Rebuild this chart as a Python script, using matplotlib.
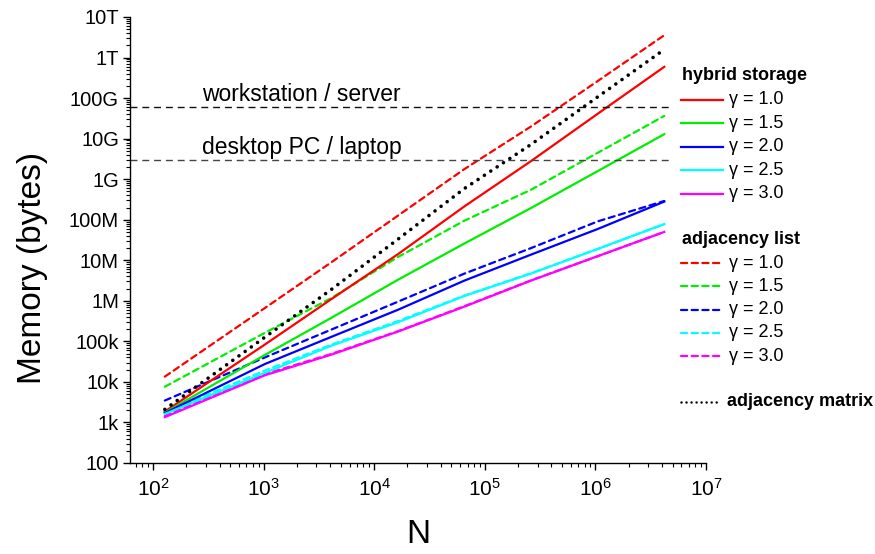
import matplotlib

matplotlib.use("Agg")

import matplotlib.pyplot as plt
import numpy as np
from matplotlib.lines import Line2D
from matplotlib.ticker import FixedLocator, FixedFormatter, LogLocator, NullFormatter

plt.rcParams["font.family"] = ["Liberation Sans", "DejaVu Sans"]
plt.rcParams["mathtext.default"] = "regular"

# network sizes (number of nodes)
N = [128, 1024, 4096, 16384, 65536, 262144, 1048576, 4194304]

GAMMAS = ["1.0", "1.5", "2.0", "2.5", "3.0"]
COLORS = ["#ff0000", "#00ee00", "#0000ff", "#00ffff", "#ff00ff"]

# memory in bytes, hybrid storage
hybrid_g10 = [1.86e3, 8.3e4, 1.1e6, 1.41e7, 2.14e8, 2.8e9, 4.1e10, 5.9e11]
hybrid_g15 = [1.74e3, 4.6e4, 3.8e5, 3.3e6, 2.6e7, 1.95e8, 1.58e9, 1.29e10]
hybrid_g20 = [1.70e3, 2.75e4, 1.29e5, 6.0e5, 3.16e6, 1.38e7, 5.9e7, 2.8e8]
hybrid_g25 = [1.62e3, 1.66e4, 7.8e4, 2.95e5, 1.32e6, 4.7e6, 1.9e7, 7.8e7]
hybrid_g30 = [1.35e3, 1.45e4, 4.7e4, 1.74e5, 7.2e5, 3.16e6, 1.26e7, 5.0e7]

# memory in bytes, adjacency list
adjlist_g10 = [1.35e4, 6.6e5, 8.9e6, 1.26e8, 1.78e9, 2.0e10, 2.63e11, 3.55e12]
adjlist_g15 = [7.6e3, 1.62e5, 1.17e6, 1.2e7, 9.5e7, 5.5e8, 4.47e9, 3.63e10]
adjlist_g20 = [3.47e3, 4.0e4, 1.95e5, 9.5e5, 4.7e6, 2.0e7, 9.1e7, 2.9e8]
adjlist_g25 = [1.78e3, 1.9e4, 8.3e4, 3.16e5, 1.35e6, 4.8e6, 1.9e7, 7.8e7]
adjlist_g30 = [1.45e3, 1.55e4, 4.9e4, 1.78e5, 7.4e5, 3.2e6, 1.26e7, 5.0e7]

# memory in bytes, adjacency matrix
adjmatrix = [2.1e3, 1.26e5, 1.9e6, 3.3e7, 5.9e8, 7.2e9, 1.07e11, 1.58e12]

# typical available memory
RAM_LIMITS = [6.0e10, 3.0e9]
RAM_LABELS = ["workstation / server", "desktop PC / laptop"]
RAM_LABEL_Y = [1.26e11, 5.9e9]
RAM_LINE_END = 5.0e6

Y_TICKS = [1e2, 1e3, 1e4, 1e5, 1e6, 1e7, 1e8, 1e9, 1e10, 1e11, 1e12, 1e13]
Y_TICK_LABELS = ["100", "1k", "10k", "100k", "1M", "10M", "100M",
                 "1G", "10G", "100G", "1T", "10T"]

HYBRID = [hybrid_g10, hybrid_g15, hybrid_g20, hybrid_g25, hybrid_g30]
ADJLIST = [adjlist_g10, adjlist_g15, adjlist_g20, adjlist_g25, adjlist_g30]

W, H = 875, 554
LW = 1.6
DASH = (0, (2.8, 2.0))
DOT = (0, (0.01, 2.1))


def fx(px):
    return px / W


def fy(py):
    return 1 - py / H


def legend_row(fig, y, text, ls, color, lw=LW, x1=723, bold=False, tx=729):
    fig.add_artist(Line2D([fx(681), fx(x1)], [fy(y), fy(y)], color=color,
                          lw=lw, linestyle=ls, dash_capstyle="round"))
    fig.text(fx(tx), fy(y), text, fontsize=13, va="center", ha="left",
             fontweight="bold" if bold else "normal")


fig = plt.figure(figsize=(W / 100, H / 100), dpi=100)
ax = fig.add_axes([fx(130), fy(463), fx(706 - 130), (463 - 17) / H])

for values, color in zip(ADJLIST, COLORS):
    ax.plot(N, values, color=color, lw=LW, linestyle=DASH, dash_capstyle="round")
for values, color in zip(HYBRID, COLORS):
    ax.plot(N, values, color=color, lw=LW)
ax.plot(N, adjmatrix, color="black", lw=2.6, linestyle=DOT, dash_capstyle="round")

xmin = 62
for limit, label, ly, c in zip(RAM_LIMITS, RAM_LABELS, RAM_LABEL_Y, ["#111111", "#444444"]):
    ax.plot([xmin, RAM_LINE_END], [limit, limit], color=c, lw=1.0,
            linestyle=(0, (5, 3.5)))
    ax.text(280, ly, label, fontsize=16.5, va="center", ha="left")

ax.set_xscale("log")
ax.set_yscale("log")
ax.set_xlim(xmin, 1e7)
ax.set_ylim(1e2, 1e13)

ax.xaxis.set_major_locator(LogLocator(base=10, numticks=20))
ax.xaxis.set_minor_locator(LogLocator(base=10, subs=np.arange(2, 10), numticks=100))
ax.xaxis.set_minor_formatter(NullFormatter())
ax.yaxis.set_major_locator(FixedLocator(Y_TICKS))
ax.yaxis.set_major_formatter(FixedFormatter(Y_TICK_LABELS))
ax.yaxis.set_minor_locator(LogLocator(base=10, subs=np.arange(2, 10), numticks=100))
ax.yaxis.set_minor_formatter(NullFormatter())

ax.tick_params(which="major", direction="out", length=5, width=1.0, labelsize=14.5)
ax.tick_params(which="minor", direction="out", length=3, width=0.8)
ax.tick_params(axis="x", which="major", pad=6, labelsize=15)
ax.tick_params(axis="y", which="major", pad=3)

for side in ("top", "right"):
    ax.spines[side].set_visible(False)
for side in ("left", "bottom"):
    ax.spines[side].set_linewidth(1.0)

ax.set_xlabel("N", fontsize=24)
ax.xaxis.label.set_va("center")
ax.xaxis.set_label_coords(0.5, -0.161)
ax.set_ylabel("Memory (bytes)", fontsize=24)
ax.yaxis.label.set_va("center")
ax.yaxis.set_label_coords(-0.17, 0.437)

# legend
fig.text(fx(682), fy(76), "hybrid storage", fontsize=13, fontweight="bold", va="center")
for i, (g, color) in enumerate(zip(GAMMAS, COLORS)):
    legend_row(fig, 100 + i * 23.4, f"γ = {g}", "-", color)

fig.text(fx(682), fy(239), "adjacency list", fontsize=13, fontweight="bold", va="center")
for i, (g, color) in enumerate(zip(GAMMAS, COLORS)):
    legend_row(fig, 263 + i * 23.3, f"γ = {g}", DASH, color, x1=720)

legend_row(fig, 402, "adjacency matrix", (0, (0.01, 2.0)), "black", lw=1.8,
           x1=720, bold=True, tx=727)

fig.savefig("out.png", dpi=100)
